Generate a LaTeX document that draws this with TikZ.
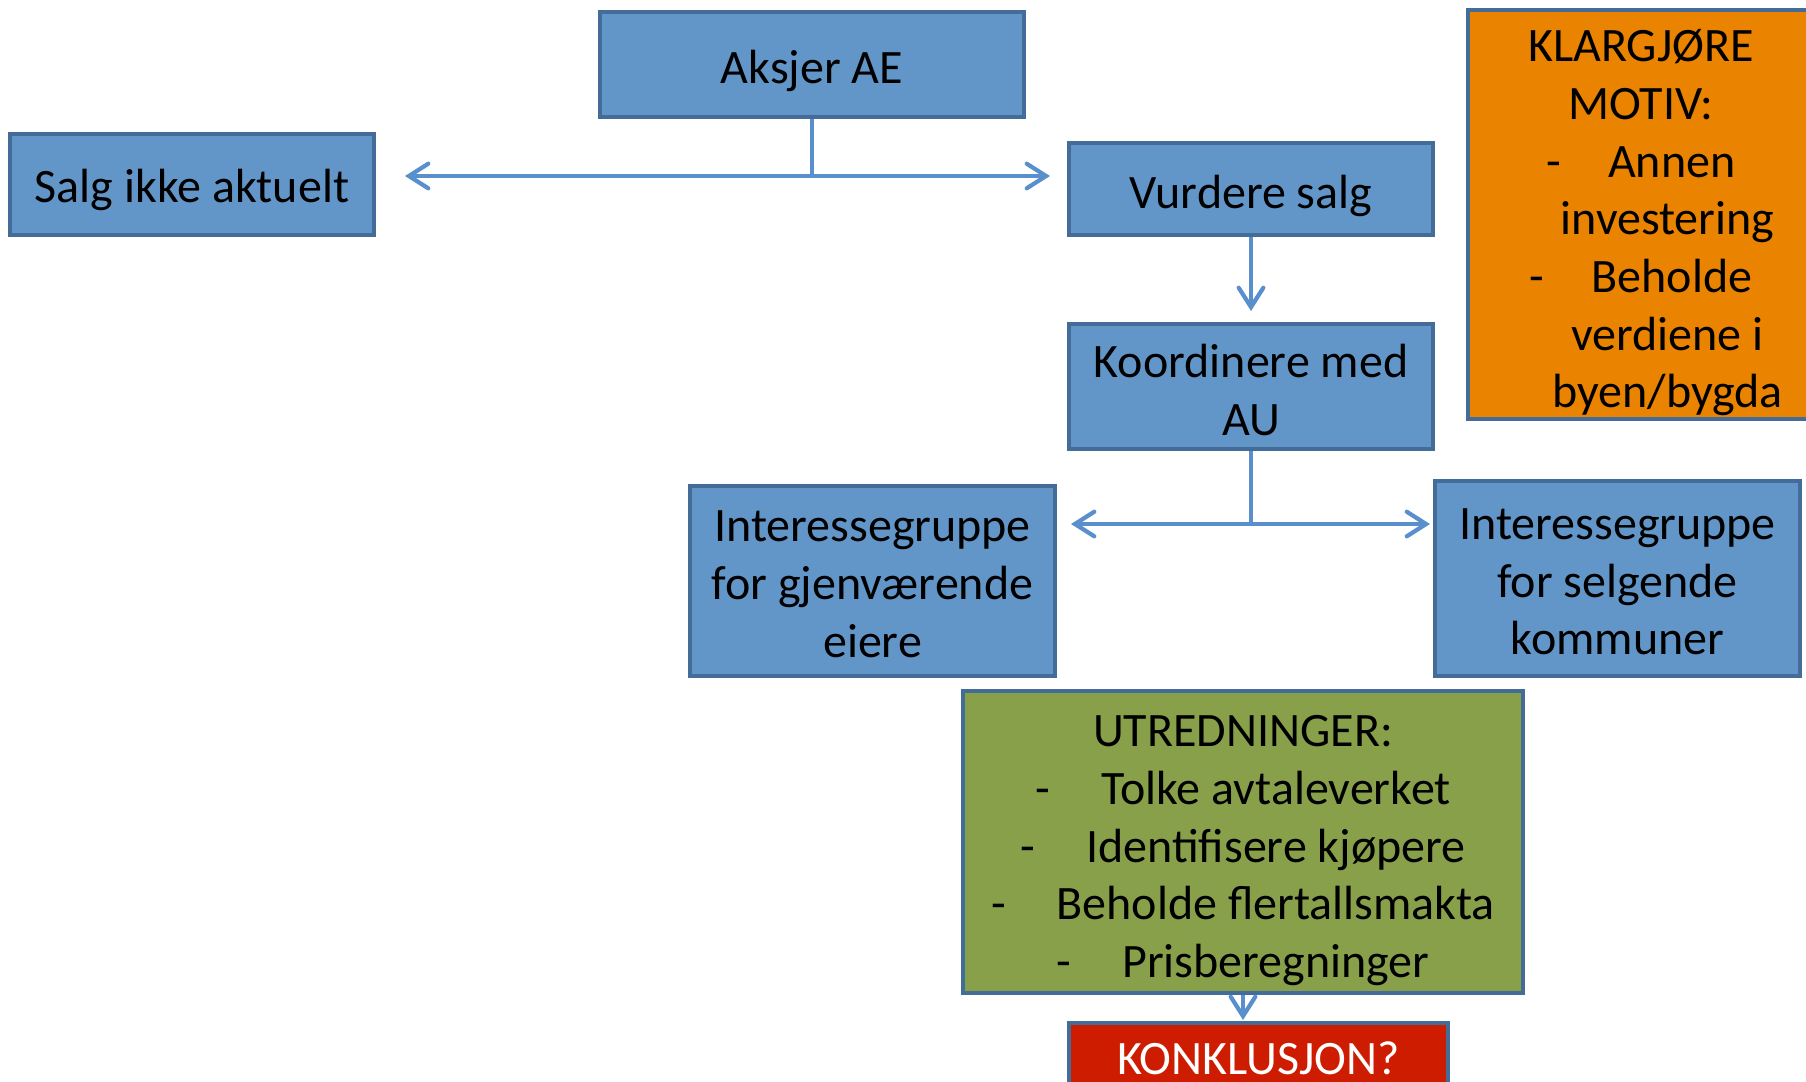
\documentclass[tikz,border=0pt]{standalone}
\usepackage{fontspec}
\setmainfont{Carlito}
\usepackage{tikz}
\usetikzlibrary{arrows.meta}
\usetikzlibrary{positioning}

\definecolor{boksblaa}{RGB}{98,150,200}
\definecolor{kantblaa}{RGB}{67,108,153}
\definecolor{pilblaa}{RGB}{88,143,204}
\definecolor{oransje}{RGB}{233,131,0}
\definecolor{olivengr}{RGB}{137,160,74}
\definecolor{roed}{RGB}{205,28,0}

\newcommand{\strek}[1][0.47cm]{-\hspace{#1}}
\newcommand{\innrykk}{\hspace*{0.53cm}}

\begin{document}
\begin{tikzpicture}[x=0.01cm, y=-0.01cm, >={Straight Barb[length=5.5pt,width=7pt,line cap=round]},
  boks/.style={draw=kantblaa, line width=1.3pt, fill=boksblaa, align=center, inner sep=0pt,
    font=\fontsize{13.65}{16.4}\selectfont},
  ned/.style={execute at begin node={\rule{0pt}{#1}}},
  hoyde/.style={text height=#1, text depth=0pt},
  pil/.style={draw=pilblaa, line width=1.2pt}]
\useasboundingbox (0,0) rectangle (1806,1081);

\node [boks, ned=13.3pt, minimum width=4.24cm, minimum height=1.05cm] (aksjer) at (812,64.5) {Aksjer AE};
\node [boks, ned=12.7pt, minimum width=3.64cm, minimum height=1.01cm] (salg) at (192,184.5) {Salg ikke aktuelt};
\node [boks, ned=13.3pt, minimum width=3.64cm, minimum height=0.92cm] (vurdere) at (1251,189) {Vurdere salg};
\node [boks, hoyde=27.6pt, minimum width=3.64cm, minimum height=1.25cm] (koord) at (1251,386.5) {Koordinere med\\ AU};
\node [boks, hoyde=43.4pt, minimum width=3.65cm, minimum height=1.90cm] (gjenv) at (872.5,581) {Interessegruppe\\ for gjenværende\\ eiere};
\node [boks, hoyde=43.4pt, minimum width=3.65cm, minimum height=1.95cm] (selg) at (1617.5,578.5) {Interessegruppe\\ for selgende\\ kommuner};
\node [boks, fill=oransje, hoyde=110pt, minimum width=3.46cm, minimum height=4.09cm] (motiv) at (1641,214.5)
  {KLARGJØRE\\ MOTIV:\\ \strek Annen\\ \innrykk investering\\ \strek Beholde\\ \innrykk verdiene i\\ \innrykk byen/bygda};
\node [boks, fill=olivengr, hoyde=77.1pt, minimum width=5.60cm, minimum height=3.02cm] (utred) at (1243,842)
  {UTREDNINGER:\\ \strek[0.51cm]Tolke avtaleverket\\ \strek[0.51cm]Identifisere kjøpere\\
   \strek[0.51cm]Beholde flertallsmakta\\ \strek[0.51cm]Prisberegninger};
\node [boks, fill=roed, text=white, minimum width=3.79cm, minimum height=0.70cm] (konkl) at (1258.5,1058) {KONKLUSJON?};

% piler
\coordinate (aksjerM) at (812,176);
\coordinate (salgP) at (405,176);
\coordinate (vurdereP) at (1050,176);
\draw [pil] (aksjer.south) -- (aksjerM);
\draw [pil,->] (aksjerM) -- (salgP);
\draw [pil,->] (aksjerM) -- (vurdereP);

\coordinate (koordP) at (1251,311);
\draw [pil,->] (vurdere.south) -- (koordP);

\coordinate (koordM) at (1251,524);
\coordinate (gjenvP) at (1071,524);
\coordinate (selgP) at (1430,524);
\draw [pil] (koord.south) -- (koordM);
\draw [pil,->] (koordM) -- (gjenvP);
\draw [pil,->] (koordM) -- (selgP);

\coordinate (konklP) at (1243,1020);
\draw [pil,->] (utred.south) -- (konklP);
\end{tikzpicture}
\end{document}
